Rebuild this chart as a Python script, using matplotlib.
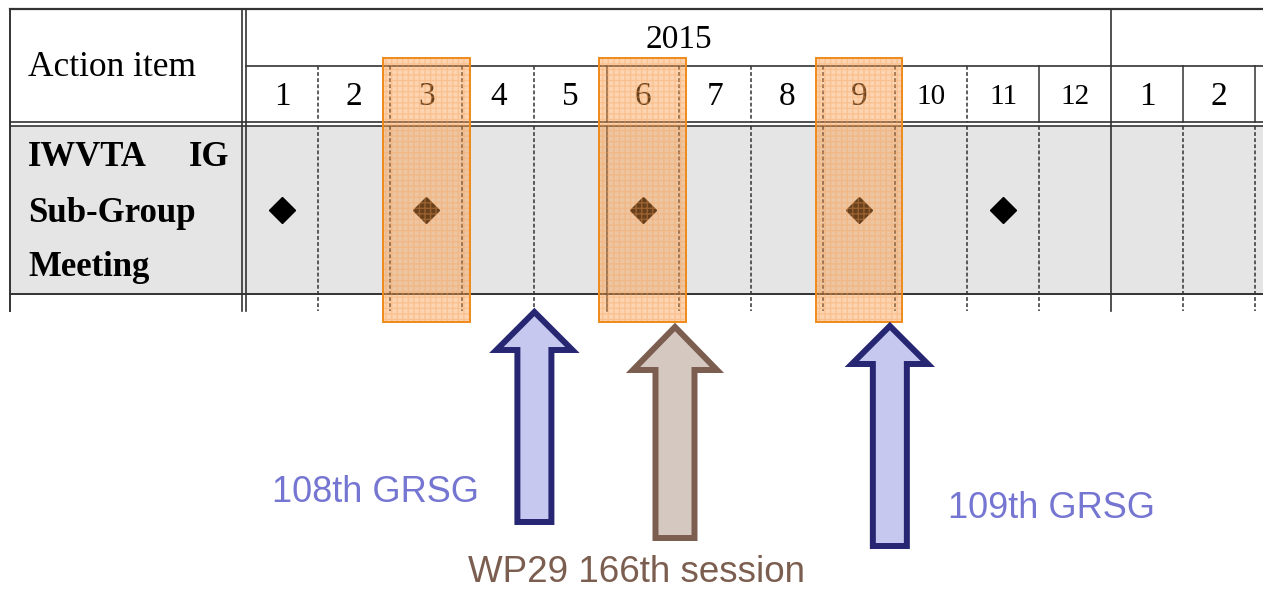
import matplotlib.pyplot as plt
from matplotlib.patches import Rectangle, Polygon

# ---- data ----
year_label = '2015'
month_labels = ['1', '2', '3', '4', '5', '6', '7', '8', '9', '10', '11', '12', '1', '2']
row_title = 'Action item'
item_lines = ['Sub-Group', 'Meeting']
meeting_months = [1, 3, 6, 9, 11]          # IWVTA IG sub-group meetings (2015)
highlight_months = [3, 6, 9]               # orange frames
event_labels = ['108th GRSG', 'WP29 166th session', '109th GRSG']
event_pos = [4.0, 5.95, 8.93]              # months elapsed since 1 Jan 2015
event_kind = ['grsg', 'wp29', 'grsg']

# ---- layout (pixels) ----
W, H = 1263, 589
x0, col_w = 246, 72.1
y_top, y_year, y_hdr1, y_hdr2, y_row, y_end = 9, 66, 122, 126, 294, 311
line_c = '#333333'


def mx(m):
    return x0 + m * col_w


fig = plt.figure(figsize=(W / 100, H / 100), dpi=100)
ax = fig.add_axes([0, 0, 1, 1])
ax.set_xlim(0, W)
ax.set_ylim(H, 0)
ax.axis('off')

serif = 'Liberation Serif'
sans = 'Liberation Sans'

# grey row
ax.add_patch(Rectangle((10, y_hdr2), W - 10, y_row - y_hdr2, facecolor='#e5e5e5', edgecolor='none', zorder=0))

# horizontal lines
ax.plot([10, W], [y_top, y_top], color=line_c, lw=1.6, zorder=1)
ax.plot([x0, W], [y_year, y_year], color=line_c, lw=1.2, zorder=1)
for yy in (y_hdr1, y_hdr2):
    ax.plot([10, W], [yy, yy], color=line_c, lw=1.2, zorder=1)
ax.plot([10, W], [y_row, y_row], color=line_c, lw=1.4, zorder=1)

# outer / first-column verticals
ax.plot([10, 10], [y_top, y_end], color=line_c, lw=1.4, zorder=1)
for xx in (242, 246):
    ax.plot([xx, xx], [y_top, y_end], color=line_c, lw=1.2, zorder=1)

# month boundaries: (header style, body style)
solid_hdr = {5, 11, 12, 13, 14}
solid_body = {5, 12}
dash = (0, (2.5, 1.5))
for k in range(1, len(month_labels) + 1):
    xx = mx(k)
    if k == 12:
        ax.plot([xx, xx], [y_top, y_end], color=line_c, lw=1.2, zorder=1)
        continue
    ax.plot([xx, xx], [y_year, y_hdr1], color=line_c, lw=1.1,
            ls='-' if k in solid_hdr else dash, zorder=1)
    ax.plot([xx, xx], [y_hdr2, y_end], color=line_c, lw=1.1,
            ls='-' if k in solid_body else dash, zorder=1)

# header texts
ax.text(mx(6), 40, year_label, fontsize=24, family=serif, ha='center', va='center', zorder=2)
for i, lab in enumerate(month_labels):
    ax.text(mx(i + 0.5), 97, lab, fontsize=21 if len(lab) > 1 else 24, family=serif,
            ha='center', va='center', zorder=2)
ax.text(28, 68, row_title, fontsize=25.5, family=serif, ha='left', va='center', zorder=2)

ax.text(28, 157, 'IWVTA', fontsize=25, family=serif, weight='bold', ha='left', va='center', zorder=2)
ax.text(229, 157, 'IG', fontsize=25, family=serif, weight='bold', ha='right', va='center', zorder=2)
for j, t in enumerate(item_lines):
    ax.text(28, 213 + 55 * j, t, fontsize=25, family=serif, weight='bold', ha='left', va='center', zorder=2)

# meeting diamonds
ax.plot([mx(m - 0.5) for m in meeting_months], [210] * len(meeting_months), ls='none',
        marker='D', markersize=13.5, color='black', zorder=3)

# orange highlight frames
for m in highlight_months:
    c = mx(m - 0.5)
    ax.add_patch(Rectangle((c - 0.6 * col_w, 58), 1.2 * col_w, 264, facecolor='#fb9a45',
                           alpha=0.42, edgecolor='none', zorder=4))
    ax.add_patch(Rectangle((c - 0.6 * col_w, 58), 1.2 * col_w, 264, facecolor='none',
                           edgecolor='#f5a055', lw=0, hatch='+++', alpha=0.35, zorder=4))
    ax.add_patch(Rectangle((c - 0.6 * col_w, 58), 1.2 * col_w, 264, facecolor='none',
                           edgecolor='#f08a1a', lw=1.4, zorder=5))

# block arrows for the events
styles = {
    'grsg': dict(edge='#262673', fill='#c6c8ef', text='#7575d2', hh=38, sh=17, head=38),
    'wp29': dict(edge='#7b5e4f', fill='#d5c8c1', text='#7b5e4f', hh=42, sh=19.5, head=43),
}
tips = [312, 327, 326]
bottoms = [522, 538, 546]
for pos, kind, ty, by in zip(event_pos, event_kind, tips, bottoms):
    s = styles[kind]
    xc = mx(pos)
    hb = ty + s['head']
    pts = [(xc, ty), (xc + s['hh'], hb), (xc + s['sh'], hb), (xc + s['sh'], by),
           (xc - s['sh'], by), (xc - s['sh'], hb), (xc - s['hh'], hb)]
    ax.add_patch(Polygon(pts, closed=True, facecolor=s['fill'], edgecolor=s['edge'],
                         lw=4.3, joinstyle='miter', zorder=6))

ax.text(375, 492, event_labels[0], fontsize=26, family=sans, color=styles['grsg']['text'],
        ha='center', va='center')
ax.text(637, 572, event_labels[1], fontsize=26.5, family=sans, color=styles['wp29']['text'],
        ha='center', va='center')
ax.text(1052, 508, event_labels[2], fontsize=26, family=sans, color=styles['grsg']['text'],
        ha='center', va='center')

fig.savefig('out.png', dpi=100)
